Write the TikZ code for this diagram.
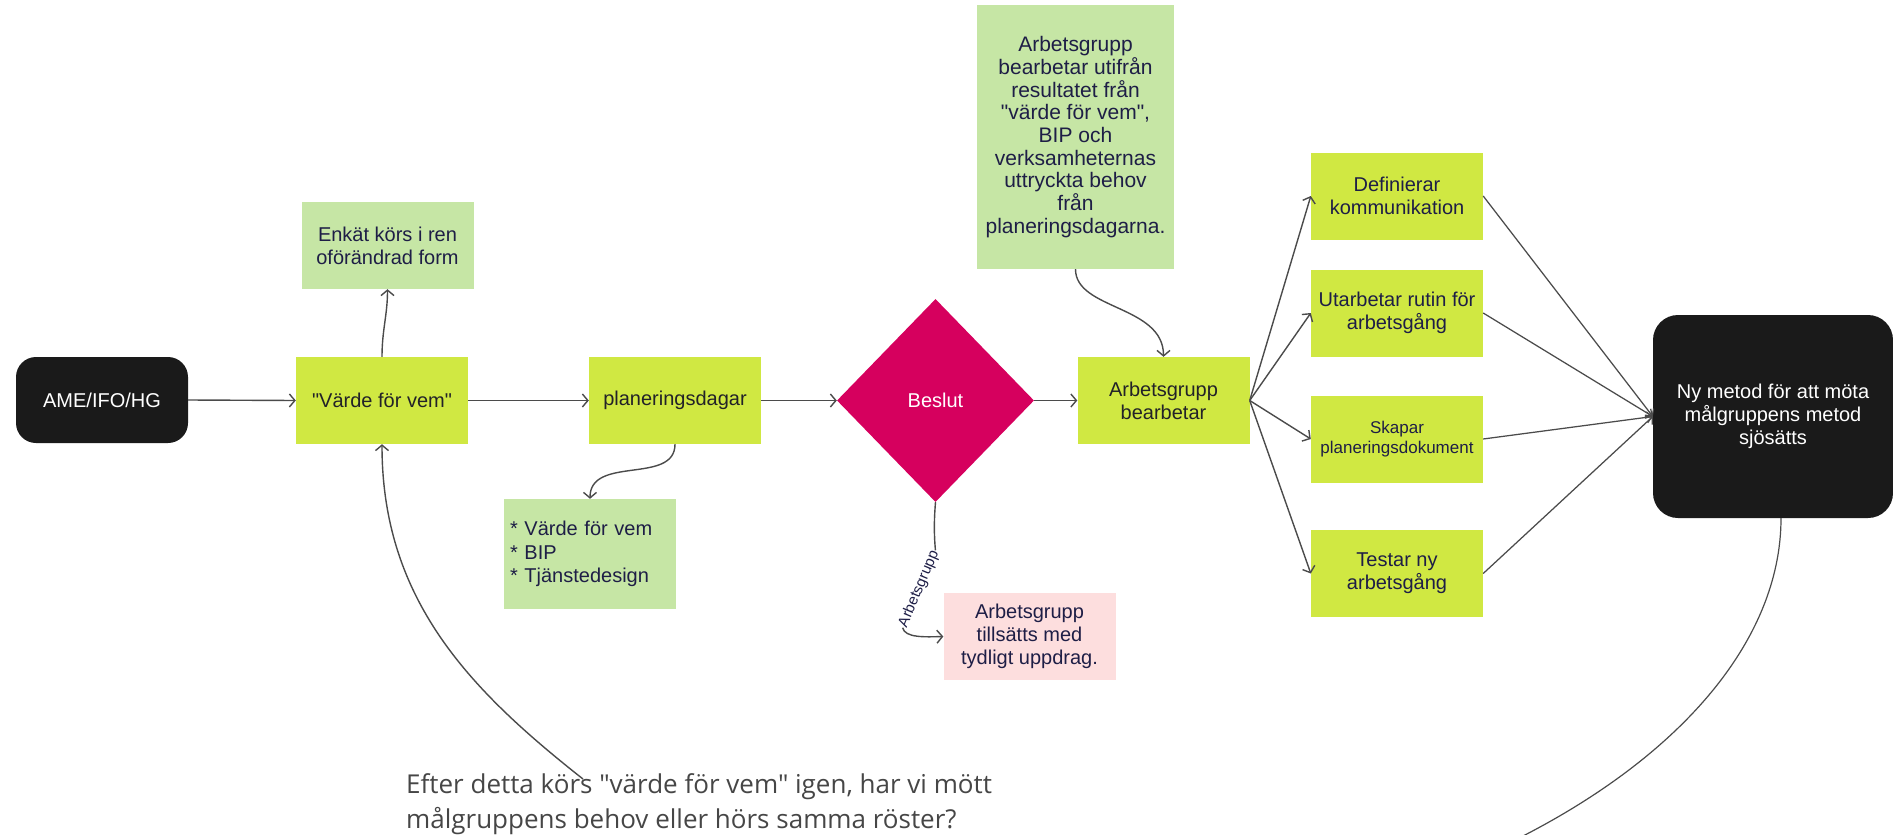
\documentclass[tikz,border=0pt]{standalone}
\usepackage{fontspec}
\setmainfont{Liberation Sans}[Ligatures=TeXOff]
\newfontfamily\opensansfam{Open Sans}[Ligatures=TeXOff]
\usetikzlibrary{arrows.meta,shapes.geometric}
\definecolor{limec}{RGB}{208,232,66}
\definecolor{lightgreenc}{RGB}{198,230,165}
\definecolor{pinkc}{RGB}{253,222,222}
\definecolor{magentac}{RGB}{214,0,94}
\definecolor{blackc}{RGB}{26,26,26}
\definecolor{navyc}{RGB}{30,30,70}
\definecolor{darktextc}{RGB}{34,34,40}
\definecolor{linec}{RGB}{75,75,75}
\definecolor{bottomgrayc}{RGB}{70,70,70}
\begin{document}
\begin{tikzpicture}[x=1pt,y=-1pt,
  nbox/.style={rectangle, inner sep=0pt, minimum width=172pt, minimum height=87pt, align=center,
    font=\fontsize{20}{23.3}\selectfont, text=navyc},
  limebox/.style={nbox, fill=limec},
  greenbox/.style={nbox, fill=lightgreenc},
  darkbox/.style={nbox, fill=blackc, rounded corners=20pt, text=white},
  conn/.style={draw=linec, line width=1.4pt},
  thinconn/.style={draw=linec, line width=1.25pt, -{Straight Barb[length=5pt,width=11pt]}},
  arr/.style={conn, -{Straight Barb[length=5.5pt,width=13pt]}}
]
\useasboundingbox (0,0) rectangle (1893,835);

% nodes
\node[darkbox, minimum height=86pt] (ame) at (102,400) {AME/IFO/HG};
\node[limebox, text=darktextc] (varde) at (382,400.5) {"Värde för vem"};
\node[greenbox] (enkat) at (387.5,245.5) {Enkät körs i ren\\oförändrad form};
\node[limebox, text=darktextc] (plan) at (675,400.5) {planeringsdagar};
\node[greenbox, minimum height=110pt, text width=160pt, align=left] (bullets) at (590,554)
  {* Värde för vem\\{}* BIP\\{}* Tjänstedesign};
\node[diamond, fill=magentac, inner sep=0pt, minimum width=197pt, minimum height=203pt,
  text=white, font=\fontsize{20}{23.3}\selectfont] (beslut) at (935.5,400.5) {Beslut};
\node[nbox, fill=pinkc] (pink) at (1029.5,636.5) {Arbetsgrupp\\tillsätts med\\tydligt uppdrag.};
\node[greenbox, minimum width=197pt, minimum height=264pt, font=\fontsize{21}{22.7}\selectfont]
  (topbox) at (1075.5,137) {Arbetsgrupp\\bearbetar utifrån\\resultatet från\\"värde för vem",\\BIP och\\verksamheternas\\uttryckta behov\\från\\planeringsdagarna.};
\node[limebox, text=darktextc] (bearb) at (1163.5,400.5) {Arbetsgrupp\\bearbetar};
\node[limebox] (def) at (1397,196) {Definierar\\kommunikation};
\node[limebox] (utarb) at (1397,313) {Utarbetar rutin för\\arbetsgång};
\node[limebox, font=\fontsize{17}{20}\selectfont] (skapar) at (1397,439) {Skapar\\planeringsdokument};
\node[limebox] (testar) at (1397,573.5) {Testar ny\\arbetsgång};
\node[darkbox, minimum width=240pt, minimum height=203pt, rounded corners=25pt] (ny) at (1773,416.5)
  {Ny metod för att möta\\målgruppens metod\\sjösätts};
\node[anchor=west, inner sep=0pt, align=left, text=bottomgrayc,
  font=\opensansfam\fontsize{26}{35}\selectfont] (question) at (406,804.5)
  {Efter detta körs "värde för vem" igen, har vi mött\\målgruppens behov eller hörs samma röster?};
\node[rotate=67, inner sep=1pt, text=navyc, font=\fontsize{15}{18}\selectfont] (lbl) at (919,589) {Arbetsgrupp};

\coordinate (qtop) at (583,779);
\coordinate (tailend) at (1505,845);

% connectors
\draw[arr] (ame.east) -- (varde.west);
\draw[arr] (varde.east) -- (plan.west);
\draw[arr] (plan.east) -- (beslut.west);
\draw[arr] (beslut.east) -- (bearb.west);
\draw[arr] (varde.north) .. controls (382,330) and (387.5,315) .. (enkat.south);
\draw[arr] (plan.south) .. controls (675,485) and (590,455) .. (bullets.north);
\draw[arr] (topbox.south) .. controls (1075.5,310) and (1163.5,305) .. (bearb.north);
\foreach \t in {def,utarb,skapar,testar} {
  \draw[arr] (bearb.east) -- (\t.west);
  \draw[thinconn] (\t.east) -- (ny.west);
}
\draw[conn] (beslut.south) .. controls (934,520) and (934,535) .. (lbl.east);
\draw[arr] (lbl.west) .. controls (905,638) and (925,637) .. (pink.west);
\draw[conn, line width=1.2pt] ([xshift=8pt]ny.south) .. controls (1781,640) and (1680,760) .. (tailend);
\draw[arr] (qtop) .. controls (470,690) and (382,600) .. (varde.south);
\end{tikzpicture}
\end{document}
